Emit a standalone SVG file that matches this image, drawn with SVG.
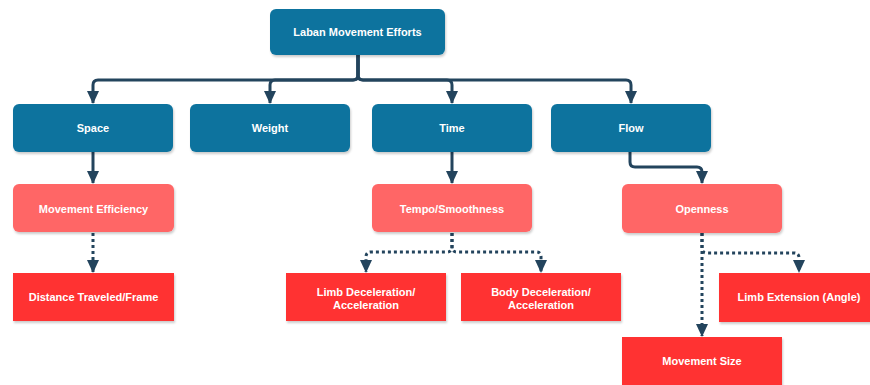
<svg xmlns="http://www.w3.org/2000/svg" width="870" height="385" viewBox="0 0 870 385">
<style>
.blue{fill:#10739E;}
.lred{fill:#FF6666;}
.red{fill:#FF3333;}
.t{font-family:"Liberation Sans",Arial,sans-serif;font-size:11px;font-weight:bold;fill:#FFFFFF;text-anchor:middle;}
.e{fill:none;stroke:#23445D;stroke-width:3;}
.d{stroke-dasharray:3 3;}
</style>
<defs>
<filter id="sh" x="-10%" y="-10%" width="120%" height="130%">
<feDropShadow dx="1" dy="2" stdDeviation="1" flood-color="#000" flood-opacity="0.2"/>
</filter>
<marker id="ah" markerUnits="userSpaceOnUse" markerWidth="13" markerHeight="12" viewBox="0 0 13 12" refX="12" refY="6" orient="auto">
<path d="M0,0 L13,6 L0,12 Z" fill="#23445D"/>
</marker>
</defs>
<g id="connectors">
<path class="e" d="M358,55 L358,75 Q358,80 353,80 L98,80 Q93,80 93,85 L93,103" marker-end="url(#ah)"/>
<path class="e" d="M358,55 L358,75 Q358,80 353,80 L275,80 Q270,80 270,85 L270,103" marker-end="url(#ah)"/>
<path class="e" d="M358,55 L358,75 Q358,80 363,80 L447,80 Q452,80 452,85 L452,103" marker-end="url(#ah)"/>
<path class="e" d="M358,55 L358,75 Q358,80 363,80 L626,80 Q631,80 631,85 L631,103" marker-end="url(#ah)"/>
<path class="e" d="M93,152 L93,183" marker-end="url(#ah)"/>
<path class="e" d="M452,152 L452,183" marker-end="url(#ah)"/>
<path class="e" d="M630,152 L630,162 Q630,167 635,167 L697,167 Q702,167 702,172 L702,183" marker-end="url(#ah)"/>
<path class="e d" d="M93,233 L93,272" marker-end="url(#ah)"/>
<path class="e d" d="M452,233 L452,247 Q452,252 447,252 L371,252 Q366,252 366,257 L366,272" marker-end="url(#ah)"/>
<path class="e d" d="M452,233 L452,247 Q452,252 457,252 L536,252 Q541,252 541,257 L541,272" marker-end="url(#ah)"/>
<path class="e d" d="M702,233 L702,248 Q702,253 707,253 L794,253 Q799,253 799,258 L799,272" marker-end="url(#ah)"/>
<path class="e d" d="M702,233 L702,336" marker-end="url(#ah)"/>
</g>
<g id="laban"><rect class="blue" x="270" y="9" width="175" height="46" rx="6" filter="url(#sh)"/><text class="t" x="357.5" y="36">Laban Movement Efforts</text></g>
<g id="space"><rect class="blue" x="13" y="104" width="160" height="48" rx="6" filter="url(#sh)"/><text class="t" x="93" y="132">Space</text></g>
<g id="weight"><rect class="blue" x="190" y="104" width="160" height="48" rx="6" filter="url(#sh)"/><text class="t" x="270" y="132">Weight</text></g>
<g id="time"><rect class="blue" x="372" y="104" width="160" height="48" rx="6" filter="url(#sh)"/><text class="t" x="452" y="132">Time</text></g>
<g id="flow"><rect class="blue" x="551" y="104" width="160" height="48" rx="6" filter="url(#sh)"/><text class="t" x="631" y="132">Flow</text></g>
<g id="efficiency"><rect class="lred" x="13" y="184" width="161" height="48" rx="6" filter="url(#sh)"/><text class="t" x="93.5" y="213">Movement Efficiency</text></g>
<g id="tempo"><rect class="lred" x="372" y="184" width="160" height="48" rx="6" filter="url(#sh)"/><text class="t" x="452" y="213">Tempo/Smoothness</text></g>
<g id="openness"><rect class="lred" x="622" y="184" width="160" height="49" rx="6" filter="url(#sh)"/><text class="t" x="702" y="213">Openness</text></g>
<g id="distance"><rect class="red" x="13" y="273" width="161" height="48" filter="url(#sh)"/><text class="t" x="93.5" y="301">Distance Traveled/Frame</text></g>
<g id="limbdecel"><rect class="red" x="286" y="273" width="160" height="48" filter="url(#sh)"/><text class="t" x="366" y="296">Limb Deceleration/</text><text class="t" x="366" y="309">Acceleration</text></g>
<g id="bodydecel"><rect class="red" x="461" y="273" width="160" height="48" filter="url(#sh)"/><text class="t" x="541" y="296">Body Deceleration/</text><text class="t" x="541" y="309">Acceleration</text></g>
<g id="limbext"><rect class="red" x="719" y="273" width="160" height="49" filter="url(#sh)"/><text class="t" x="799" y="301">Limb Extension (Angle)</text></g>
<g id="movesize"><rect class="red" x="622" y="337" width="160" height="50" filter="url(#sh)"/><text class="t" x="702" y="365">Movement Size</text></g>
</svg>
